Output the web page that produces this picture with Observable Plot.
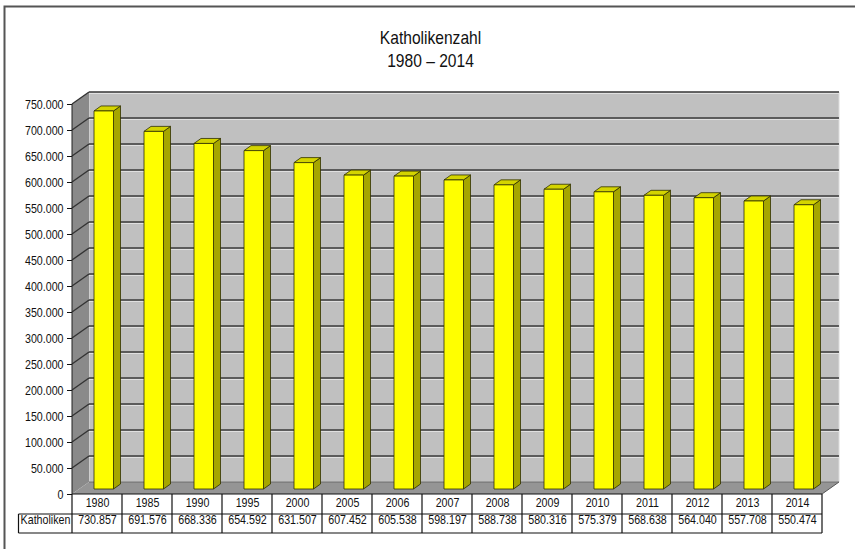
<!DOCTYPE html>
<html>
<head>
<meta charset="utf-8">
<script src="https://cdn.jsdelivr.net/npm/d3@7"></script>
<script src="https://cdn.jsdelivr.net/npm/@observablehq/plot@0.6"></script>
<style>
  html, body { margin: 0; padding: 0; background: #fff; }
</style>
</head>
<body>
<div id="chart"></div>
<script>
// ---- data ----
const years = ["1980","1985","1990","1995","2000","2005","2006","2007","2008","2009","2010","2011","2012","2013","2014"];
const katholiken = [730857, 691576, 668336, 654592, 631507, 607452, 605538, 598197, 588738, 580316, 575379, 568638, 564040, 557708, 550474];
const yTicks = [0, 50000, 100000, 150000, 200000, 250000, 300000, 350000, 400000, 450000, 500000, 550000, 600000, 650000, 700000, 750000];
const titleLines = ["Katholikenzahl", "1980 – 2014"];
const rowLabel = "Katholiken";

const data = years.map((year, i) => ({year, value: katholiken[i]}));
const de = d3.formatLocale({decimal: ",", thousands: ".", grouping: [3], currency: ["", " €"]});
const fmt = de.format(",d");

const FONT = "'Liberation Sans', Arial, sans-serif";
const NARROW = 0.82;          // horizontal compression to mimic a narrow face
const DEPTH = [17, -12];      // wall depth offset
const BAR_DEPTH = [7, -5];    // column depth offset

function scene(index, scales, values, dims) {
  const sx = scales.x, sy = scales.y;
  const bw = typeof sx.bandwidth === "function" ? sx.bandwidth() : scales.scales.x.bandwidth;
  const [dx, dy] = DEPTH;
  const x0 = sx(years[0]), x1 = sx(years[years.length - 1]) + bw;
  const y0 = sy(0), yT = sy(yTicks[yTicks.length - 1]);
  const g = d3.create("svg:g");
  const pts = p => p.map(q => q.join(",")).join(" ");
  const poly = (p, fill, stroke, sw) => g.append("polygon").attr("points", pts(p))
      .attr("fill", fill).attr("stroke", stroke || "none").attr("stroke-width", sw || 1)
      .attr("stroke-linejoin", "round");
  const line = (xa, ya, xb, yb, stroke, sw) => g.append("line")
      .attr("x1", xa).attr("y1", ya).attr("x2", xb).attr("y2", yb)
      .attr("stroke", stroke).attr("stroke-width", sw);

  // outer frame (top and left edge)
  g.append("path").attr("d", `M4.5,${dims.height} V6.5 H${dims.width}`)
    .attr("fill", "none").attr("stroke", "#555").attr("stroke-width", 2);

  // back wall
  poly([[x0 + dx, yT + dy], [x1 + dx, yT + dy], [x1 + dx, y0 + dy], [x0 + dx, y0 + dy]], "#c0c0c0", "#dcdcdc", 1);
  // side wall
  poly([[x0, y0], [x0, yT], [x0 + dx, yT + dy], [x0 + dx, y0 + dy]], "#8a8a8a");
  // floor
  poly([[x0, y0], [x1, y0], [x1 + dx, y0 + dy], [x0 + dx, y0 + dy]], "#959595");

  // gridlines
  for (const t of yTicks) {
    const y = sy(t);
    if (t > 0) {
      line(x0 + dx, y + dy + 1.4, x1 + dx, y + dy + 1.4, "#e4e4e4", 1);
      line(x0 + dx, y + dy, x1 + dx, y + dy, "#3a3a3a", 1.6);
      line(x0, y, x0 + dx, y + dy, "#333", 1.4);
    }
  }
  // floor edges
  line(x1, y0, x1 + dx, y0 + dy, "#555", 1);
  line(x0 + dx, y0 + dy, x1 + dx, y0 + dy, "#6a6a6a", 1);

  // columns
  const [bdx, bdy] = BAR_DEPTH;
  const stroke = "#2e2e00";
  for (let i = 0; i < years.length; i++) {
    const L = sx(years[i]);
    const fx0 = L + 0.44 * bw, fx1 = L + 0.83 * bw;
    const base = y0 - 5, top = sy(katholiken[i]) - 3;
    poly([[fx1, top], [fx1 + bdx, top + bdy], [fx1 + bdx, base + bdy], [fx1, base]], "#a6a600", stroke, 0.8);
    poly([[fx0, top], [fx1, top], [fx1 + bdx, top + bdy], [fx0 + bdx, top + bdy]], "#d4d400", stroke, 0.8);
    poly([[fx0, top], [fx1, top], [fx1, base], [fx0, base]], "#ffff00", stroke, 0.8);
  }

  // axis line (front-left edge)
  line(x0, y0, x0, yT, "#222", 1);

  // data table grid
  const r1 = y0 + 20, r2 = y0 + 39, labelLeft = 18.5;
  line(x0, y0, x1, y0, "#111", 1.2);
  line(labelLeft, r1, x1, r1, "#111", 1.2);
  line(labelLeft, r2, x1, r2, "#111", 1.2);
  line(labelLeft, r1, labelLeft, r2, "#111", 1.2);
  for (let i = 0; i <= years.length; i++) {
    const xx = i < years.length ? sx(years[i]) : x1;
    line(xx, y0, xx, r2, "#111", 1.2);
  }
  return g.node();
}

const chart = Plot.plot({
  width: 855,
  height: 549,
  marginLeft: 72,
  marginRight: 33,
  marginTop: 104,
  marginBottom: 55,
  style: {background: "#fff", fontFamily: FONT, fontSize: "13px", color: "#111", overflow: "visible"},
  x: {type: "band", domain: years, padding: 0, axis: null},
  y: {domain: [0, 750000], ticks: yTicks, tickFormat: fmt, tickSize: 5, tickPadding: 4, label: null},
  marks: [
    scene,
    Plot.text([titleLines[0]], {text: d => d, frameAnchor: "top", dx: -17, dy: -74, fontSize: 19, fill: "#111"}),
    Plot.text([titleLines[1]], {text: d => d, frameAnchor: "top", dx: -17, dy: -51.5, fontSize: 19, fill: "#111"}),
    Plot.text(data, {x: "year", text: "year", frameAnchor: "bottom", dy: 12.5, fontSize: 13, fill: "#111"}),
    Plot.text(data, {x: "year", text: d => fmt(d.value), frameAnchor: "bottom", dy: 29.5, fontSize: 13, fill: "#111"}),
    Plot.text([rowLabel], {text: d => d, frameAnchor: "bottom-left", textAnchor: "middle", dx: -27, dy: 29.5, fontSize: 13, fill: "#111"})
  ]
});
document.getElementById("chart").appendChild(chart);

// condense glyphs horizontally to emulate the narrow typeface of the original
chart.querySelectorAll("text").forEach(t => {
  const w = t.getComputedTextLength();
  if (w > 0) {
    t.setAttribute("textLength", (w * NARROW).toFixed(2));
    t.setAttribute("lengthAdjust", "spacingAndGlyphs");
  }
});
</script>
</body>
</html>
